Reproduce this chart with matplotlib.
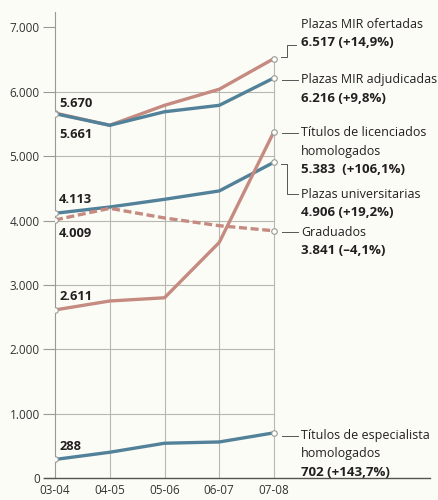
import matplotlib
matplotlib.use("Agg")
import matplotlib.pyplot as plt

# datos
temporadas = ["03-04", "04-05", "05-06", "06-07", "07-08"]
mir_ofertadas = [5670, 5480, 5790, 6040, 6517]
mir_adjudicadas = [5661, 5480, 5690, 5790, 6216]
plazas_univ = [4113, 4210, 4330, 4460, 4906]
graduados = [4009, 4190, 4040, 3920, 3841]
lic_homologados = [2611, 2750, 2800, 3660, 5383]
esp_homologados = [288, 400, 540, 560, 702]
yticks = [0, 1000, 2000, 3000, 4000, 5000, 6000, 7000]
ytick_labels = ["0", "1.000", "2.000", "3.000", "4.000", "5.000", "6.000", "7.000"]

ROJO = "#c58a80"
AZUL = "#52819a"
GRIS = "#9a9a94"
TEXTO = "#231f20"
FONDO = "#fcfcf7"

plt.rcParams["font.family"] = ["Open Sans", "DejaVu Sans"]

fig = plt.figure(figsize=(4.38, 5.0), dpi=100, facecolor=FONDO)
W, H = 438, 500


def fpx(x, y):  # pixeles de la imagen -> coordenadas de figura
    return x / W, 1 - y / H


ax = fig.add_axes([55 / W, 22 / H, (430 - 55) / W, (478 - 12) / H])
ax.set_facecolor(FONDO)
x = list(range(len(temporadas)))
ax.set_xlim(0, (430 - 55) / 54.75)
ax.set_ylim(0, 7240)

# grilla
for v in yticks[1:-1]:
    ax.plot([0, 4], [v, v], color="#b8b8b0", lw=0.8, zorder=1)
for i in x[1:]:
    ax.plot([i, i], [0, mir_ofertadas[i]], color="#b8b8b0", lw=0.8, zorder=1)

for sp in ["top", "right"]:
    ax.spines[sp].set_visible(False)
ax.spines["left"].set_color(GRIS)
ax.spines["left"].set_linewidth(0.8)
ax.spines["bottom"].set_color("#555550")
ax.spines["bottom"].set_linewidth(1.0)
ax.spines["bottom"].set_bounds(-0.2, (430 - 55) / 54.75)

ax.set_yticks(yticks)
ax.set_yticklabels(ytick_labels)
ax.tick_params(axis="y", length=9, width=0.8, color=GRIS, labelsize=8.5, labelcolor="#333", pad=2)
ax.set_xticks(x)
ax.set_xticklabels(temporadas)
ax.tick_params(axis="x", length=0, labelsize=8.5, labelcolor="#333", pad=4)

series = [
    (mir_ofertadas, ROJO, "-"),
    (mir_adjudicadas, AZUL, "-"),
    (plazas_univ, AZUL, "-"),
    (graduados, ROJO, (0, (2.4, 1.1))),
    (lic_homologados, ROJO, "-"),
    (esp_homologados, AZUL, "-"),
]
for vals, col, ls in series:
    ax.plot(x, vals, color=col, lw=2.4, ls=ls, zorder=3, solid_capstyle="butt")
    ax.plot([x[0], x[-1]], [vals[0], vals[-1]], ls="none", marker="o", ms=4,
            mfc="white", mec=GRIS, mew=0.8, zorder=4)

# etiquetas iniciales
def etiqueta_ini(v, dy):
    ax.annotate(f"{v:,}".replace(",", "."), (0, v), xytext=(3, dy), textcoords="offset points",
                fontsize=9.3, fontweight="bold", color=TEXTO, va="center", ha="left")

etiqueta_ini(mir_ofertadas[0], 7)
etiqueta_ini(mir_adjudicadas[0], -15)
etiqueta_ini(plazas_univ[0], 10)
etiqueta_ini(graduados[0], -10)
etiqueta_ini(lic_homologados[0], 10)
etiqueta_ini(esp_homologados[0], 9)

# etiquetas finales
textos = [
    (25, "Plazas MIR ofertadas", False),
    (43, "6.517 (+14,9%)", True),
    (80, "Plazas MIR adjudicadas", False),
    (99, "6.216 (+9,8%)", True),
    (133, "Títulos de licenciados", False),
    (151, "homologados", False),
    (169, "5.383  (+106,1%)", True),
    (194, "Plazas universitarias", False),
    (213, "4.906 (+19,2%)", True),
    (232, "Graduados", False),
    (251, "3.841 (–4,1%)", True),
    (436, "Títulos de especialista", False),
    (454, "homologados", False),
    (472, "702 (+143,7%)", True),
]
for yp, t, negrita in textos:
    fig.text(*fpx(301, yp), t, fontsize=9.5 if negrita else 9.0, color=TEXTO, va="center",
             ha="left", fontweight="bold" if negrita else "normal")

# conectores
conectores = [
    [(281, 57), (287, 57), (287, 45), (296, 45)],
    [(282, 80), (298, 80)],
    [(282, 133), (298, 133)],
    [(281, 164), (287, 164), (287, 194), (298, 194)],
    [(282, 232), (298, 232)],
    [(282, 436), (298, 436)],
]
for pts in conectores:
    xs = [fpx(px, py)[0] for px, py in pts]
    ys = [fpx(px, py)[1] for px, py in pts]
    fig.add_artist(plt.Line2D(xs, ys, transform=fig.transFigure, color="#555", lw=0.7))

fig.savefig("out.png", dpi=100, facecolor=FONDO)
